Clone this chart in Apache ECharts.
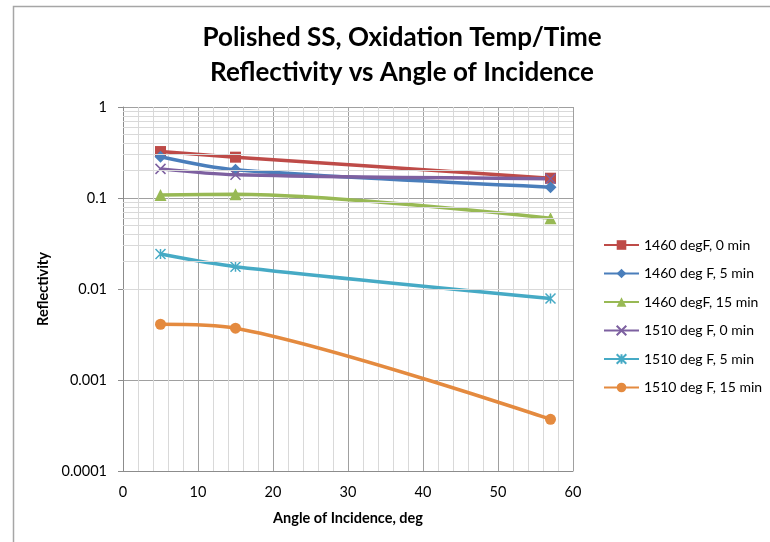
<!DOCTYPE html>
<html>
<head>
<meta charset="utf-8">
<script src="https://cdn.jsdelivr.net/npm/echarts@6/dist/echarts.min.js"></script>
<style>html,body{margin:0;padding:0;background:#fff}#c{width:770px;height:542px}</style>
</head>
<body>
<div id="c"></div>
<script>
var angles = [5, 15, 57];
var s1460_0 = [0.324, 0.281, 0.165];
var s1460_5 = [0.284, 0.204, 0.1315];
var s1460_15 = [0.108, 0.110, 0.060];
var s1510_0 = [0.209, 0.180, 0.163];
var s1510_5 = [0.0242, 0.0176, 0.00787];
var s1510_15 = [0.0041, 0.00371, 0.00037];
var seriesNames = ['1460 degF, 0 min', '1460 deg F, 5 min', '1460 degF, 15 min', '1510 deg F, 0 min', '1510 deg F, 5 min', '1510 deg F, 15 min'];
var yTickLabels = ['0.0001', '0.001', '0.01', '0.1', '1'];
var yMinorGrid = [];
[0.0001, 0.001, 0.01, 0.1].forEach(function (d) {
  for (var k = 2; k <= 9; k++) yMinorGrid.push(+(d * k).toPrecision(3));
});

var FONT = 'Lato, "Open Sans", sans-serif';
var colors = ['#BE4B48', '#4A7EBB', '#98B954', '#7D60A0', '#46AAC5', '#E48A3F'];
var symbols = ['rect', 'diamond', 'triangle',
  'path://M0,0 L10,10 M10,0 L0,10',
  'path://M5,0 L5,10 M0,0 L10,10 M10,0 L0,10',
  'circle'];
var sizes = [11, 12, 12, 10, 10, 11];
var allData = [s1460_0, s1460_5, s1460_15, s1510_0, s1510_5, s1510_15];

function pairs(vals) { return angles.map(function (a, i) { return [a, vals[i]]; }); }

var series = allData.map(function (vals, i) {
  var isPath = symbols[i].indexOf('path') === 0;
  return {
    name: seriesNames[i],
    type: 'line',
    data: pairs(vals),
    smooth: 0.3,
    symbol: symbols[i],
    symbolSize: sizes[i],
    showAllSymbol: true,
    z: 3,
    lineStyle: { color: colors[i], width: 3.5 },
    itemStyle: isPath ? { color: colors[i], borderColor: colors[i], borderWidth: 1.5 } : { color: colors[i] }
  };
});
series.unshift({
  name: 'grid',
  type: 'line',
  data: [],
  z: 1,
  markLine: {
    silent: true,
    symbol: 'none',
    label: { show: false },
    animation: false,
    lineStyle: { color: '#D9D9D9', type: 'solid', width: 1 },
    data: yMinorGrid.map(function (v) { return { yAxis: v }; })
  }
});

var chart = echarts.init(document.getElementById('c'));
chart.setOption({
  animation: false,
  graphic: [{
    type: 'rect', left: 11, top: 4, z: -10,
    shape: { width: 800, height: 600 },
    style: { fill: 'none', stroke: '#A6A6A6', lineWidth: 1.5 }
  }],
  title: {
    text: 'Polished SS, Oxidation Temp/Time\nReflectivity vs Angle of Incidence',
    left: 397, top: 15, textAlign: 'center',
    textStyle: { fontFamily: FONT, fontSize: 26, fontWeight: 'bold', color: '#000', lineHeight: 35 }
  },
  legend: {
    data: seriesNames,
    orient: 'vertical',
    left: 598, top: 233,
    itemWidth: 35, itemHeight: 12, itemGap: 14.5,
    textStyle: { fontFamily: FONT, fontSize: 14, color: '#000' }
  },
  grid: { left: 123, right: 197, top: 107, bottom: 71, containLabel: false },
  xAxis: {
    type: 'value', min: 0, max: 60, interval: 10,
    name: 'Angle of Incidence, deg', nameLocation: 'middle', nameGap: 40,
    nameTextStyle: { fontFamily: FONT, fontSize: 14.5, fontWeight: 'bold', color: '#000' },
    axisLine: { show: true, lineStyle: { color: '#8C8C8C' } },
    axisTick: { show: false },
    axisLabel: { fontFamily: FONT, fontSize: 14.5, color: '#000', margin: 14 },
    splitLine: { show: true, lineStyle: { color: '#A0A0A0' } },
    minorTick: { show: false, splitNumber: 5 },
    minorSplitLine: { show: true, lineStyle: { color: '#D9D9D9' } }
  },
  yAxis: {
    type: 'log', logBase: 10, min: 0.0001, max: 1,
    name: 'Reflectivity', nameLocation: 'middle', nameGap: 72,
    nameTextStyle: { fontFamily: FONT, fontSize: 14.5, fontWeight: 'bold', color: '#000' },
    axisLine: { show: true, lineStyle: { color: '#8C8C8C' } },
    axisTick: { show: true, length: 5, lineStyle: { color: '#8C8C8C' } },
    axisLabel: {
      fontFamily: FONT, fontSize: 14.5, color: '#000', margin: 16,
      formatter: function (v) {
        var idx = Math.round(Math.log10(v)) + 4;
        return yTickLabels[idx] !== undefined ? yTickLabels[idx] : '';
      }
    },
    splitLine: { show: true, lineStyle: { color: '#A0A0A0' } }
  },
  series: series
});
</script>
</body>
</html>
